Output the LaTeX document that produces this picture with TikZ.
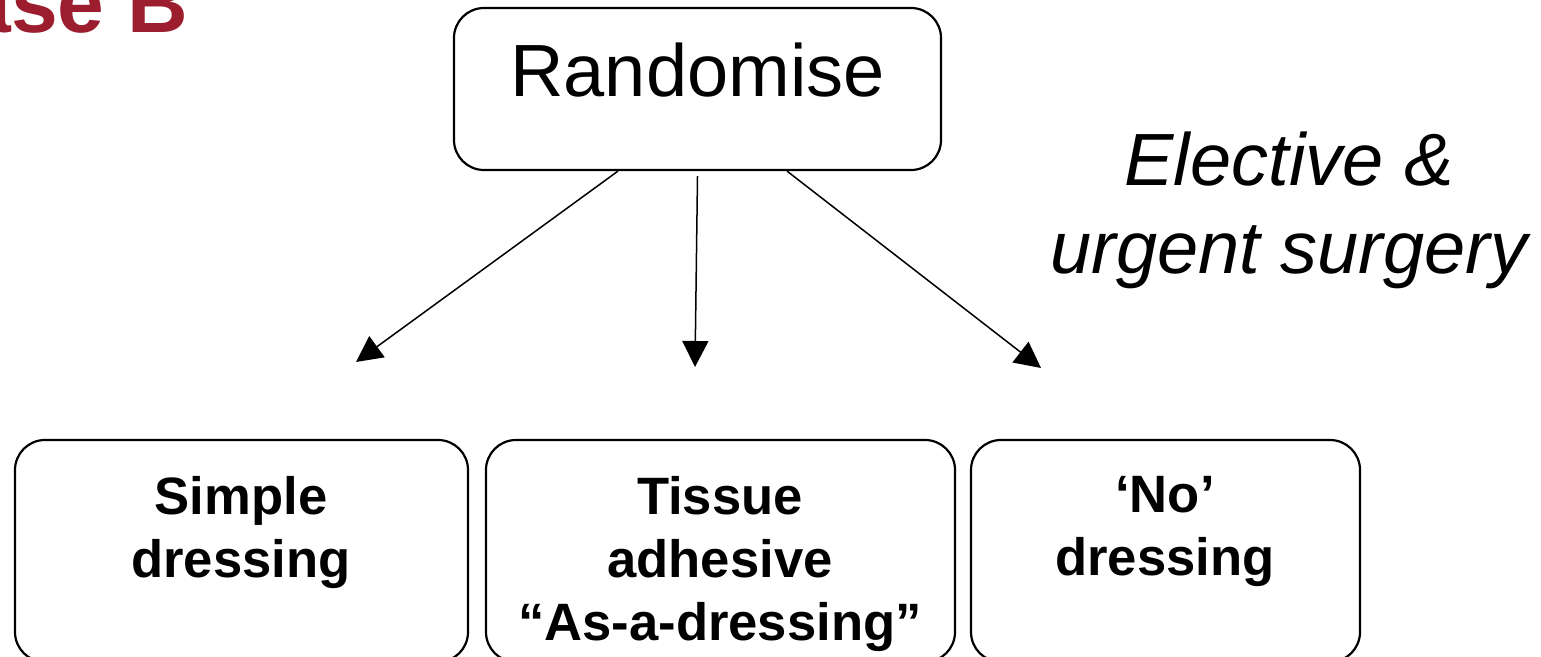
\documentclass[tikz,border=0pt]{standalone}
\usepackage{fontspec}
\setmainfont{Liberation Sans}
\usetikzlibrary{arrows.meta,calc}

\definecolor{phasered}{RGB}{155,29,46}
\tikzset{
  box/.style={draw, line width=1.1pt, rounded corners=15pt, inner sep=0pt},
  arr/.style={line width=0.75pt, -{Triangle[length=13pt,width=13pt]}},
  boxtext/.style={anchor=north, inner sep=0pt, align=center, font=\fontsize{26.3}{31.5}\selectfont\bfseries},
}

\begin{document}
\begin{tikzpicture}[x=0.5pt,y=0.5pt,yscale=-1,xscale=1]
  \useasboundingbox (0,0) rectangle (1541,657);

  % Title (cut off at the slide edge)
  \node [anchor=base east, inner sep=0pt, text=phasered, font=\fontsize{42}{42}\selectfont\bfseries] (phase) at (189,33) {ase B};

  % Randomise box
  \node [box, minimum width=243.5pt, minimum height=81pt, text height=26pt, text depth=18pt, font=\fontsize{37}{37}\selectfont] (rand) at (697.5,89) {Randomise};

  % Arms
  \node [box, minimum width=226.5pt, minimum height=111pt] (simple) at (241.5,551) {};
  \node [box, minimum width=234.5pt, minimum height=111pt] (tissue) at (720.5,551) {};
  \node [box, minimum width=194.5pt, minimum height=111pt] (nodress) at (1165.5,551) {};

  % Text Node
  \node [boxtext] (simpletxt) at (241,476) {Simple\\dressing};
  % Text Node
  \node [boxtext] (tissuetxt) at (720,476) {Tissue\\adhesive\\“As-a-dressing”};
  % Text Node
  \node [boxtext] (nodresstxt) at (1165,476) {‘No’\\dressing};

  % Text Node
  \node [anchor=north, inner sep=0pt, align=center, font=\fontsize{37}{44}\selectfont\itshape] (surgery) at (1289,131) {Elective \&\\urgent surgery};

  % arrow tips
  \coordinate (tipA) at (356,362);
  \coordinate (tipB) at (695,367);
  \coordinate (tipC) at (1041,368);

  \draw [arr] ($(rand.south)+(-79.5,0)$) -- (tipA);
  \draw [arr] ($(rand.south)+(0,5)$) -- (tipB);
  \draw [arr] ($(rand.south)+(89.5,0)$) -- (tipC);

\end{tikzpicture}
\end{document}
